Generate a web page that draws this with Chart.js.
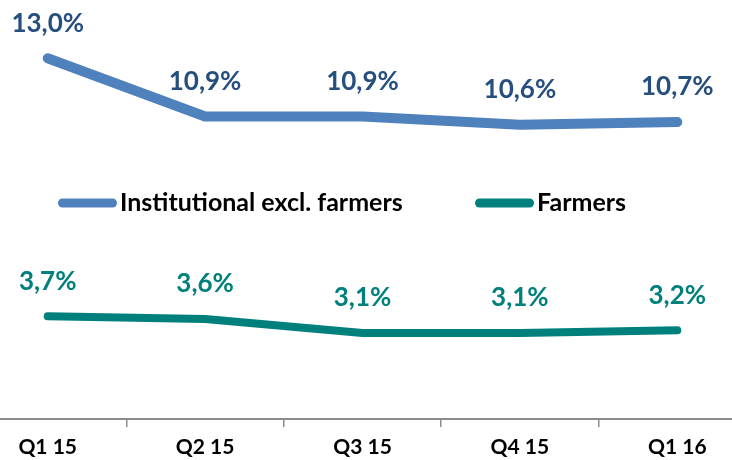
<!DOCTYPE html>
<html>
<head>
<meta charset="utf-8">
<script src="https://cdn.jsdelivr.net/npm/chart.js@4/dist/chart.umd.min.js"></script>
<style>
  html, body { margin: 0; padding: 0; background: #fff; overflow: hidden; }
  #wrap { position: absolute; left: -31px; top: 0; width: 787px; height: 460px; }
</style>
</head>
<body>
<div id="wrap"><canvas id="chart" width="787" height="460"></canvas></div>
<script>
const quarters = ['Q1 15', 'Q2 15', 'Q3 15', 'Q4 15', 'Q1 16'];
const institutional = [13.0, 10.9, 10.9, 10.6, 10.7];
const farmers = [3.7, 3.6, 3.1, 3.1, 3.2];
const seriesNames = ['Institutional excl. farmers', 'Farmers'];

const FONT = 'Lato, "Open Sans", sans-serif';

function pct(v) {
  return v.toFixed(1).replace('.', ',') + '%';
}

// value labels above each point
const valueLabels = {
  id: 'valueLabels',
  afterDatasetsDraw(chart) {
    const ctx = chart.ctx;
    ctx.save();
    ctx.font = 'bold 26px ' + FONT;
    ctx.textAlign = 'center';
    ctx.textBaseline = 'middle';
    chart.data.datasets.forEach((ds, i) => {
      const meta = chart.getDatasetMeta(i);
      ctx.fillStyle = ds.labelColor;
      meta.data.forEach((pt, j) => {
        ctx.fillText(pct(ds.data[j]), pt.x, pt.y - 35);
      });
    });
    ctx.restore();
  }
};

// legend sitting in the middle of the plot
const midLegend = {
  id: 'midLegend',
  afterDraw(chart) {
    const ctx = chart.ctx;
    const y = 203;
    const spots = [89, 506]; // left end of each legend line (canvas px)
    ctx.save();
    ctx.font = 'bold 25px ' + FONT;
    ctx.textBaseline = 'middle';
    chart.data.datasets.forEach((ds, i) => {
      const x = spots[i];
      ctx.strokeStyle = ds.borderColor;
      ctx.lineWidth = 9;
      ctx.lineCap = 'round';
      ctx.beginPath();
      ctx.moveTo(x + 4.5, y);
      ctx.lineTo(x + 54.5, y);
      ctx.stroke();
      ctx.fillStyle = '#000';
      ctx.fillText(ds.label, x + 62, y);
    });
    ctx.restore();
  }
};

new Chart(document.getElementById('chart'), {
  type: 'line',
  data: {
    labels: quarters,
    datasets: [
      {
        label: seriesNames[0],
        data: institutional,
        borderColor: '#4F81BD',
        labelColor: '#264F80',
        borderWidth: 10,
        borderCapStyle: 'round',
        borderJoinStyle: 'round',
        pointRadius: 0,
        tension: 0
      },
      {
        label: seriesNames[1],
        data: farmers,
        borderColor: '#00807D',
        labelColor: '#00807D',
        borderWidth: 8,
        borderCapStyle: 'round',
        borderJoinStyle: 'round',
        pointRadius: 0,
        tension: 0
      }
    ]
  },
  options: {
    responsive: false,
    animation: false,
    devicePixelRatio: 1,
    layout: { padding: 0 },
    plugins: {
      legend: { display: false },
      tooltip: { enabled: false }
    },
    scales: {
      x: {
        offset: true,
        grid: {
          offset: true,
          drawOnChartArea: false,
          drawTicks: true,
          tickLength: 8,
          color: '#8C8C8C',
          lineWidth: 1.5
        },
        border: { color: '#8C8C8C', width: 2 },
        ticks: {
          color: '#000',
          padding: 8,
          font: { family: FONT, size: 21, weight: 'bold' }
        },
        afterFit(scale) { scale.height = 41; }
      },
      y: {
        display: false,
        min: 0,
        max: 15.1
      }
    }
  },
  plugins: [valueLabels, midLegend]
});
</script>
</body>
</html>
